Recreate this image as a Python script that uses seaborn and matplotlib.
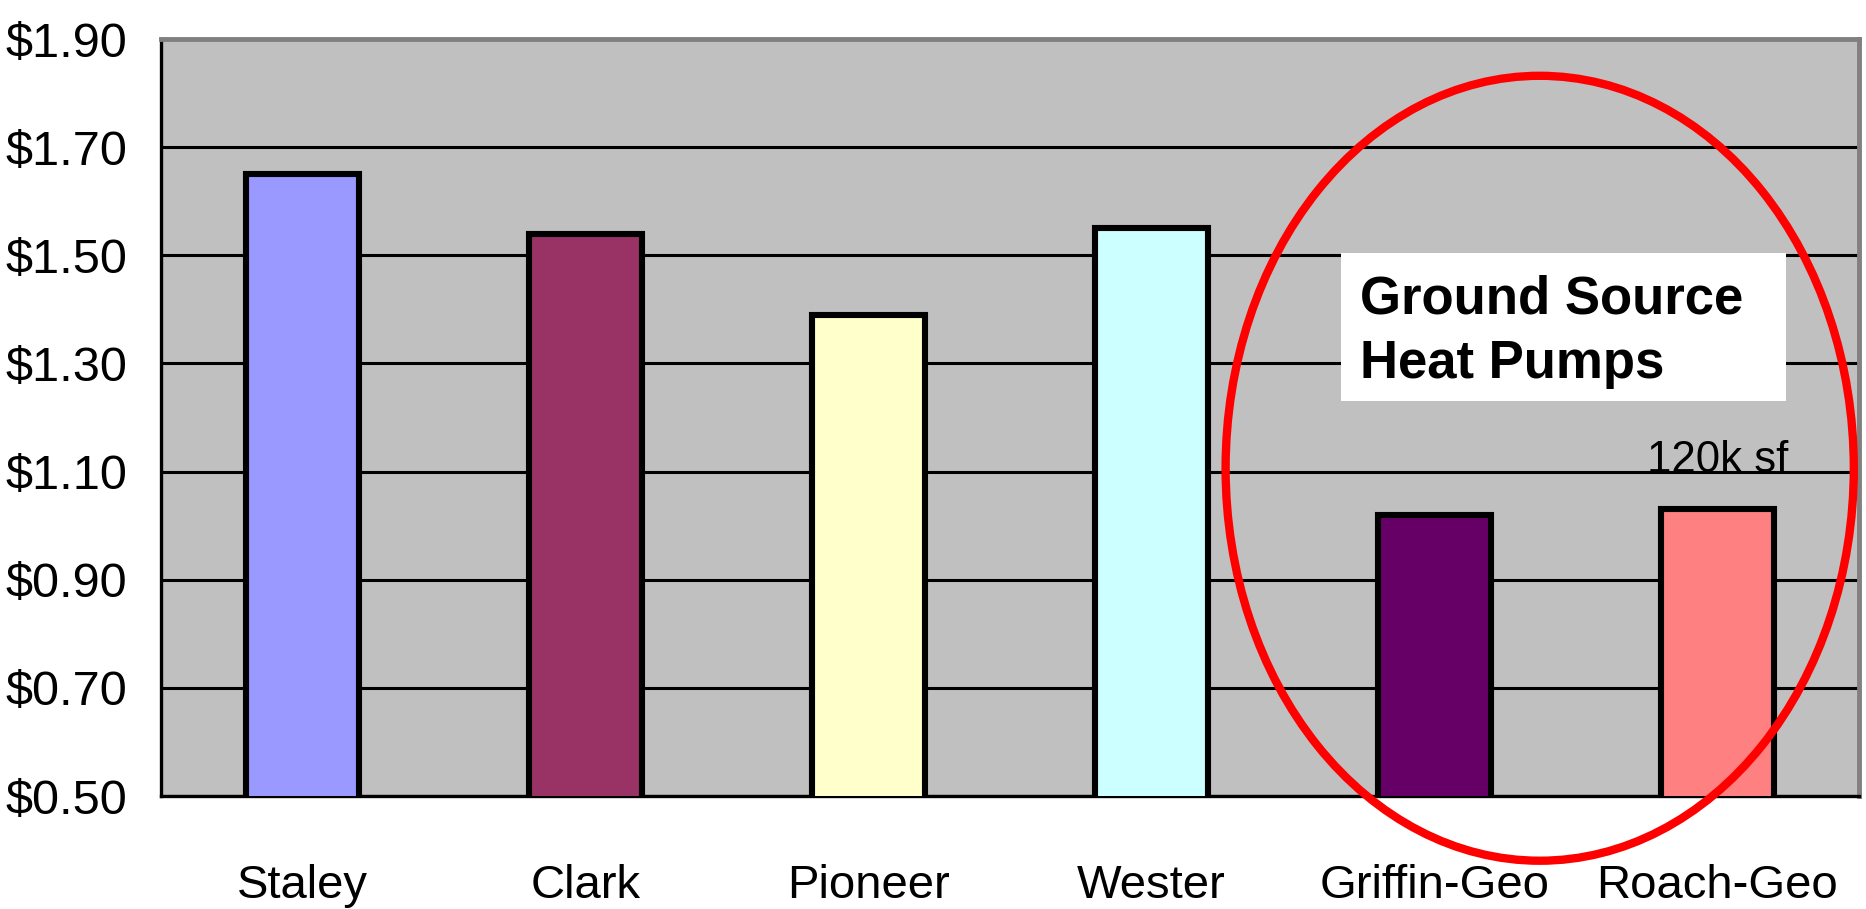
import pandas as pd
import seaborn as sns
import matplotlib.pyplot as plt
from matplotlib.patches import Ellipse, Rectangle
from matplotlib.ticker import FixedLocator

# values
schools = ['Staley', 'Clark', 'Pioneer', 'Wester', 'Griffin-Geo', 'Roach-Geo']
cost = [1.65, 1.54, 1.39, 1.55, 1.02, 1.03]
bar_colors = ['#9999FF', '#993366', '#FFFFCC', '#CCFFFF', '#660066', '#FF8080']
y_ticks = [0.50, 0.70, 0.90, 1.10, 1.30, 1.50, 1.70, 1.90]

df = pd.DataFrame({'school': schools, 'cost': cost})

sns.set_style('white')
plt.rcParams['font.family'] = ['Liberation Sans', 'DejaVu Sans']
plt.rcParams['text.color'] = 'black'
plt.rcParams['xtick.color'] = 'black'
plt.rcParams['ytick.color'] = 'black'

fig = plt.figure(figsize=(18.66, 9.09), dpi=100)
ax = fig.add_axes([0.0863, 0.1243, 0.9099, 0.8327])
ax.set_facecolor('#C0C0C0')

sns.barplot(data=df, x='school', y='cost', hue='school', palette=bar_colors,
            legend=False, width=0.4, edgecolor='black', linewidth=4.4,
            saturation=1, ax=ax, zorder=3)

ax.set_ylim(0.5, 1.9)
ax.set_xlim(-0.5, len(schools) - 0.5)
ax.set_yticks(y_ticks)
ax.set_yticklabels([f'${v:.2f}' for v in y_ticks])
ax.yaxis.grid(True, color='black', linewidth=2.2, zorder=1)
ax.set_axisbelow(True)

# ticks sit between the categories
ax.xaxis.set_minor_locator(FixedLocator([i - 0.5 for i in range(len(schools) + 1)]))
ax.tick_params(axis='x', which='major', length=0, pad=49, labelsize=34)
ax.tick_params(axis='x', which='minor', length=15, width=2.2, color='black', direction='out')
ax.tick_params(axis='y', length=15, width=2.2, color='black', direction='out', pad=9.5, labelsize=35)
ax.set_xlabel('')
ax.set_ylabel('')

for side in ['left', 'bottom']:
    ax.spines[side].set_color('black')
    ax.spines[side].set_linewidth(2.4)
for side in ['top', 'right']:
    ax.spines[side].set_color('#808080')
    ax.spines[side].set_linewidth(3.5)

# annotation box, note and red circle
ax.add_patch(Rectangle((0.695, 0.522), 0.262, 0.196, transform=ax.transAxes,
                       facecolor='white', edgecolor='none', zorder=4))
ax.text(0.706, 0.637, 'Ground Source', transform=ax.transAxes, fontsize=38,
        fontweight='bold', va='baseline', zorder=5)
ax.text(0.706, 0.552, 'Heat Pumps', transform=ax.transAxes, fontsize=38,
        fontweight='bold', va='baseline', zorder=5)
ax.text(5, 1.10, '120k sf', ha='center', va='baseline', fontsize=31.5, zorder=5)
ax.add_patch(Ellipse((0.812, 0.433), 0.370, 1.037, transform=ax.transAxes,
                     fill=False, edgecolor='#FF0000', linewidth=6, zorder=6,
                     clip_on=False))

plt.savefig('out.png', dpi=100)
